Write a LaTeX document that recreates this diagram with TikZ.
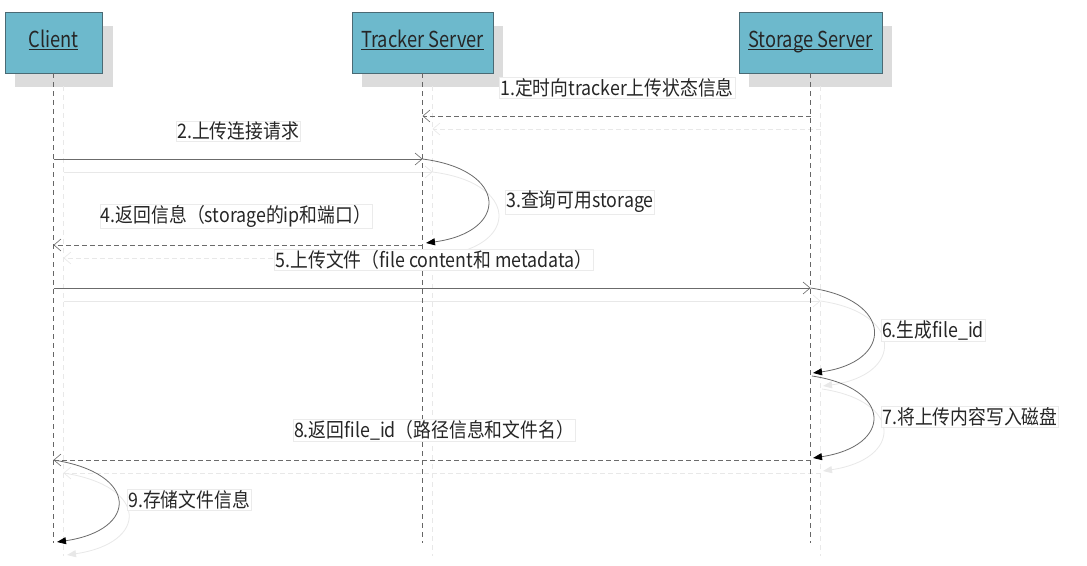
\documentclass[tikz,border=0pt]{standalone}
\usepackage{fontspec}
\setmainfont[FakeStretch=0.89]{Noto Sans CJK SC}
\newfontfamily\actorfont[FakeStretch=0.83]{Noto Sans CJK SC}
\usetikzlibrary{arrows.meta}
\definecolor{boxfill}{HTML}{6DB9CC}
\definecolor{boxline}{HTML}{4A6A74}
\definecolor{ghostc}{HTML}{E8E8E8}
\definecolor{shadowc}{HTML}{DCDCDC}
\colorlet{ink}{black!58}
\colorlet{headink}{black}
\colorlet{lifeink}{black!60}
\newcommand\actorlabel[1]{\underline{\smash{#1}}\vphantom{Cg}}
\newcommand\connectors{%
  \draw[lifeline] (client.south) -- (cl-end);
  \draw[lifeline] (tracker.south) -- (tr-end);
  \draw[lifeline] (storage.south) -- (st-end);
  \draw[retmsg] (s1) -- (t1);
  \draw[callmsg] (c2) -- (t2);
  \draw[selfmsg] (t2) .. controls (509,170) and (509,232) .. (t3);
  \draw[retmsg] (t4) -- (c4);
  \draw[callmsg] (c5) -- (s5);
  \draw[selfmsg] (s5) .. controls (894,300) and (894,362) .. (s6);
  \draw[selfmsg] (s7) .. controls (893,388) and (893,446) .. (s8);
  \draw[retmsg] (s8b) -- (c8);
  \draw[selfmsg] (c8) .. controls (139,473) and (139,530) .. (c9);
}
\begin{document}
\begin{tikzpicture}[x=1pt,y=-1pt,
  actor/.style={draw=boxline, line width=0.8pt, fill=boxfill, minimum height=61pt,
    inner sep=0pt, font=\actorfont\fontsize{22pt}{24pt}\selectfont, text=black!85},
  lifeline/.style={draw=lifeink, line width=0.8pt, dash pattern=on 5pt off 4pt},
  callmsg/.style={draw=ink, line width=0.8pt, -{Straight Barb[length=7pt,width=12pt,line width=0.6pt]}},
  retmsg/.style={draw=ink, line width=0.8pt, dash pattern=on 5pt off 3pt,
    -{Straight Barb[length=7pt,width=12pt,line width=0.6pt,sep=0pt]}},
  selfmsg/.style={draw=ink, line width=0.8pt, -{Triangle[length=9pt,width=7pt,fill=headink,color=headink]}},
  lbl/.style={draw=black!8, fill=white, inner xsep=1pt, inner ysep=1pt,
    font=\fontsize{20pt}{22pt}\selectfont, text=black!85}]
\useasboundingbox[fill=white] (0,0) rectangle (1087,565);
% box shadows
\fill[shadowc] (15,26) rectangle (113,87);
\fill[shadowc] (362,26) rectangle (503,87);
\fill[shadowc] (749,26) rectangle (892,87);
% actors
\node[actor, minimum width=97pt] (client) at (53.5,42.5) {\actorlabel{Client}};
\node[actor, minimum width=141pt] (tracker) at (422.5,42.5) {\actorlabel{Tracker Server}};
\node[actor, minimum width=143pt] (storage) at (810.5,42.5) {\actorlabel{Storage Server}};
% event coordinates
\coordinate (cl-end) at (53.5,543);
\coordinate (tr-end) at (422.5,543);
\coordinate (st-end) at (810.5,543);
\coordinate (s1) at (810.5,116);
\coordinate (t1) at (422.5,116);
\coordinate (c2) at (53.5,159);
\coordinate (t2) at (422.5,159);
\coordinate (t3) at (426,243);
\coordinate (t4) at (422.5,245);
\coordinate (c4) at (53.5,245);
\coordinate (c5) at (53.5,288);
\coordinate (s5) at (810.5,288);
\coordinate (s6) at (813,373);
\coordinate (s7) at (812,376);
\coordinate (s8) at (813,458);
\coordinate (s8b) at (810.5,460);
\coordinate (c8) at (53.5,460);
\coordinate (c9) at (57,542);
% ghost copies (drop shadow of connectors)
\begin{scope}[transform canvas={shift={(10pt,-13pt)}}]
  \colorlet{ink}{ghostc}\colorlet{headink}{ghostc}\colorlet{lifeink}{ghostc}
  \connectors
\end{scope}
% actors redrawn above ghosts
\node[actor, minimum width=97pt] at (53.5,42.5) {\actorlabel{Client}};
\node[actor, minimum width=141pt] at (422.5,42.5) {\actorlabel{Tracker Server}};
\node[actor, minimum width=143pt] at (810.5,42.5) {\actorlabel{Storage Server}};
\connectors
% labels
\node[lbl] (l1) at (617,88) {1.定时向tracker上传状态信息};
\node[lbl] (l2) at (238,131) {2.上传连接请求};
\node[lbl] (l3) at (580,202) {3.查询可用storage};
\node[lbl] (l4) at (236,216) {4.返回信息（storage的ip和端口）};
\node[lbl] (l5) at (434,260) {5.上传文件（file content和 metadata）};
\node[lbl] (l6) at (933,330) {6.生成file\_id};
\node[lbl] (l7) at (970,417) {7.将上传内容写入磁盘};
\node[lbl] (l8) at (434,430) {8.返回file\_id（路径信息和文件名）};
\node[lbl] (l9) at (189,500) {9.存储文件信息};
\end{tikzpicture}
\end{document}
